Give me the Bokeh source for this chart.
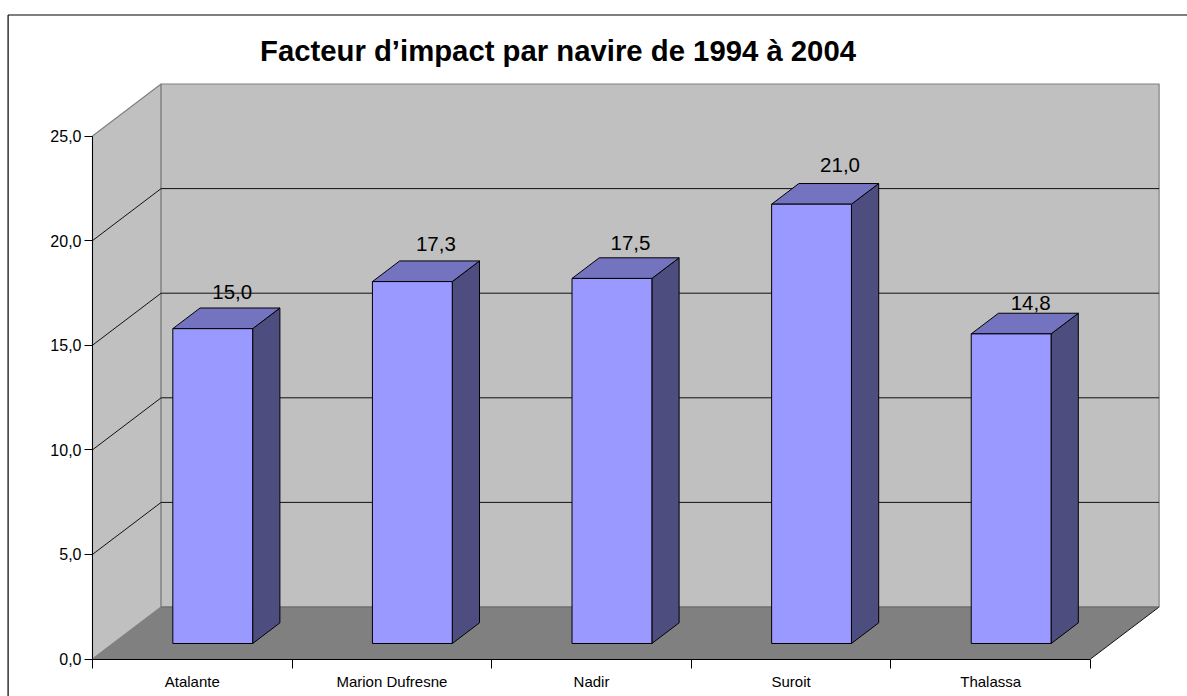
from bokeh.plotting import figure
from bokeh.models import ColumnDataSource, FixedTicker
from bokeh.core.properties import value
from bokeh.embed import file_html
from bokeh.resources import INLINE

TITLE = "Facteur d\u2019impact par navire de 1994 \u00e0 2004"
categories = ["Atalante", "Marion Dufresne", "Nadir", "Suroit", "Thalassa"]
impact = [15.05, 17.3, 17.45, 21.0, 14.8]
impact_labels = ["15,0", "17,3", "17,5", "21,0", "14,8"]
value_ticks = [0, 5, 10, 15, 20, 25]
value_tick_labels = ["0,0", "5,0", "10,0", "15,0", "20,0", "25,0"]

FONT = "Liberation Sans"
W, H = 1187, 696
CAT_PX, VAL_PX = 199.6, 20.92      # pixels per category / per unit of value
DX, DY = 68.6 / CAT_PX, 52 / VAL_PX  # depth of the box, in data units
X0, X1 = 0.5, 0.5 + len(categories)
V0, V1 = value_ticks[0], value_ticks[-1]
BAR_W, D_FRONT, D_BACK = 0.4, 0.298, 0.695

x_start = X0 - 92 / CAT_PX
y_start = -(H - 658.5) / VAL_PX

p = figure(width=W, height=H, output_backend="svg", toolbar_location=None,
           x_range=(x_start, x_start + W / CAT_PX),
           y_range=(y_start, y_start + H / VAL_PX),
           min_border=0, background_fill_color="white", border_fill_color="white",
           outline_line_color=None)
p.grid.visible = False


def px(x, d):
    return x + d * DX


def py(v, d):
    return v + d * DY


# outer frame of the chart (open on the right and at the bottom)
frame_x = x_start + 7.6 / CAT_PX
frame_y = y_start + (H - 14.5) / VAL_PX
p.line([frame_x, frame_x], [y_start, frame_y], line_color="black", line_width=1.2)
p.line([frame_x, x_start + W / CAT_PX], [frame_y, frame_y], line_color="black", line_width=1.2)

# walls
WALL, EDGE = "#C0C0C0", "#808080"
p.patch([X0, px(X0, 1), px(X0, 1), X0], [V0, py(V0, 1), py(V1, 1), V1],
        fill_color=WALL, line_color=EDGE, line_width=1.2)
p.patch([px(X0, 1), px(X1, 1), px(X1, 1), px(X0, 1)], [py(V0, 1), py(V0, 1), py(V1, 1), py(V1, 1)],
        fill_color=WALL, line_color=EDGE, line_width=1.2)
# floor
p.patch([X0, X1, px(X1, 1), px(X0, 1)], [V0, V0, py(V0, 1), py(V0, 1)],
        fill_color="#808080", line_color=None)
p.line([X1, px(X1, 1)], [V0, py(V0, 1)], line_color="#111111", line_width=1)
p.line([px(X0, 1), px(X1, 1)], [py(V0, 1), py(V0, 1)], line_color="#666666", line_width=1.2)

# gridlines on the side wall and the back wall
for v in value_ticks[1:-1]:
    p.line([X0, px(X0, 1), px(X1, 1)], [v, py(v, 1), py(v, 1)], line_color="#111111", line_width=1)

# bars
for i, v in enumerate(impact):
    c = i + 1
    l, r = c - BAR_W / 2, c + BAR_W / 2
    p.patch([px(r, D_FRONT), px(r, D_BACK), px(r, D_BACK), px(r, D_FRONT)],
            [py(0, D_FRONT), py(0, D_BACK), py(v, D_BACK), py(v, D_FRONT)],
            fill_color="#4D4D80", line_color="black", line_width=1)
    p.patch([px(l, D_FRONT), px(r, D_FRONT), px(r, D_BACK), px(l, D_BACK)],
            [py(v, D_FRONT), py(v, D_FRONT), py(v, D_BACK), py(v, D_BACK)],
            fill_color="#7373BF", line_color="black", line_width=1)
    p.quad(left=[px(l, D_FRONT)], right=[px(r, D_FRONT)],
           bottom=[py(0, D_FRONT)], top=[py(v, D_FRONT)],
           fill_color="#9999FF", line_color="black", line_width=1)

# data labels, hand-placed in the original
label_source = ColumnDataSource(dict(
    x=[px(i + 1, D_FRONT) for i in range(len(impact))],
    y=[py(v, D_FRONT) for v in impact],
    text=impact_labels,
    xo=[19.5, 23.5, 18.5, 28.5, 19.5],
    yo=[-37, -38, -35, -39.5, -31],
))
p.text(x="x", y="y", text="text", source=label_source, x_offset="xo", y_offset="yo",
       text_align="center", text_baseline="middle", text_color="black",
       text_font=value(FONT), text_font_size="20.5px")

# title
p.text(x=[X0 + (557.5 - 92) / CAT_PX], y=[(658.5 - 50) / VAL_PX], text=[TITLE],
       text_align="center", text_baseline="middle", text_color="black",
       text_font=value(FONT), text_font_size="29.3px", text_font_style="bold")

# axes
ya = p.yaxis[0]
ya.fixed_location = X0
ya.bounds = (V0, V1)
ya.ticker = FixedTicker(ticks=value_ticks)
ya.major_label_overrides = dict(zip(value_ticks, value_tick_labels))
ya.major_tick_out, ya.major_tick_in = 8, 0
ya.minor_tick_out = ya.minor_tick_in = 0
ya.major_label_standoff = 3
ya.axis_line_color = ya.major_tick_line_color = "black"
ya.major_label_text_font = FONT
ya.major_label_text_font_size = "16px"
ya.major_label_text_color = "black"

cat_pos = list(range(1, len(categories) + 1))
xa = p.xaxis[0]
xa.fixed_location = V0
xa.bounds = (X0, X1)
xa.ticker = FixedTicker(ticks=cat_pos, minor_ticks=[c - 0.5 for c in cat_pos] + [X1])
xa.major_label_overrides = dict(zip(cat_pos, categories))
xa.major_tick_out = xa.major_tick_in = 0
xa.minor_tick_out, xa.minor_tick_in = 9, 0
xa.major_label_standoff = 5
xa.axis_line_color = xa.minor_tick_line_color = "black"
xa.major_label_text_font = FONT
xa.major_label_text_font_size = "15px"
xa.major_label_text_color = "black"

open("out.html", "w").write(file_html(p, INLINE))
